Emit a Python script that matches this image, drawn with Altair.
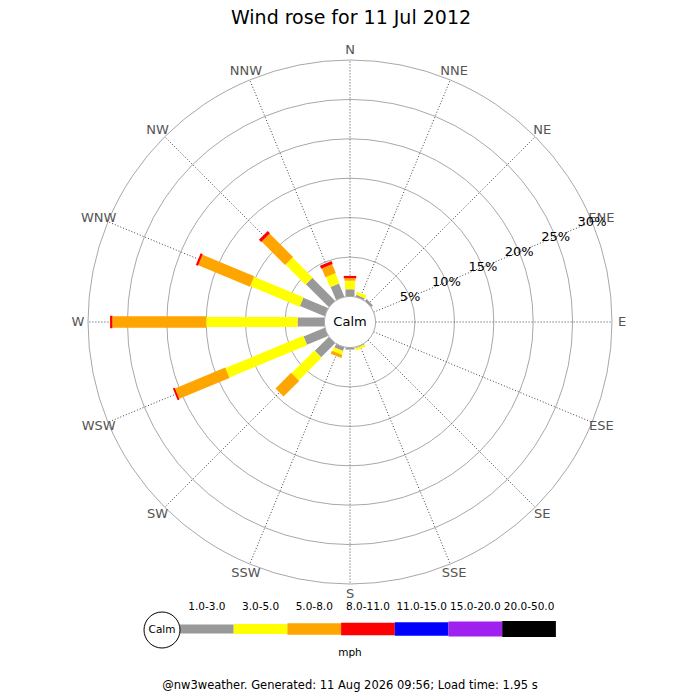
import altair as alt
import pandas as pd

TITLE = "Wind rose for 11 Jul 2012"
FOOTER = "@nw3weather. Generated: 11 Aug 2026 09:56; Load time: 1.95 s"
UNIT = "mph"
CALM = "Calm"

DIRECTIONS = ["N", "NNE", "NE", "ENE", "E", "ESE", "SE", "SSE",
              "S", "SSW", "SW", "WSW", "W", "WNW", "NW", "NNW"]
SPEED_BINS = ["1.0-3.0", "3.0-5.0", "5.0-8.0", "8.0-11.0",
              "11.0-15.0", "15.0-20.0", "20.0-50.0"]
BIN_COLORS = ["#999999", "#ffff00", "#ffa500", "#ff0000", "#0000ff", "#a020f0", "#000000"]

# share of the day (%) blowing from each direction, one list per speed band
PCT_1_3 = [0.9, 0.25, 0.3, 0, 0, 0, 0, 0.1, 0.25, 0.5, 2.5, 2.9, 3.4, 3.4, 4.1, 1.8]
PCT_3_5 = [1.1, 0.4, 0, 0, 0, 0, 0, 0.3, 0, 0.5, 4.1, 10.7, 11.6, 6.8, 3.6, 1.4]
PCT_5_8 = [0.3, 0, 0, 0, 0, 0, 0, 0, 0, 0.4, 2.8, 6.9, 11.9, 7.1, 4.2, 1.2]
PCT_8_11 = [0.3, 0, 0, 0, 0, 0, 0, 0, 0, 0, 0, 0.25, 0.3, 0.3, 0.4, 0.4]
RING_PCTS = [5, 10, 15, 20, 25, 30]

# layout (pixels); the rose centre is the origin of the x/y scales
W = H = 684
CX, CY = 342, 314
R0 = 25.6          # calm circle radius
K = 7.88           # pixels per percent
R_MAX = R0 + K * 30
R_LABEL = 272
BAR_WIDTHS = [9, 16, 21, 23, 25, 27, 29]
LEG_X0, LEG_W, LEG_Y = -170, 53.7, -307
FONT = "DejaVu Sans"

xs = alt.Scale(domain=[-CX, W - CX], nice=False, zero=False)
ys = alt.Scale(domain=[CY - H, CY], nice=False, zero=False)
color = alt.Color("band:N", scale=alt.Scale(domain=SPEED_BINS, range=BIN_COLORS), legend=None)
width = alt.StrokeWidth("band:O", scale=alt.Scale(domain=SPEED_BINS, range=BAR_WIDTHS), legend=None)


def xq(f):
    return alt.X(f, scale=xs, axis=None)


def yq(f):
    return alt.Y(f, scale=ys, axis=None)


def xd(v):
    return alt.XDatum(v, scale=xs, axis=None)


def yd(v):
    return alt.YDatum(v, scale=ys, axis=None)


def polar(chart, r_expr, name_x, name_y):
    return chart.transform_calculate(
        **{name_x: f"({r_expr}) * sin(datum.angle * PI / 180)",
           name_y: f"({r_expr}) * cos(datum.angle * PI / 180)"}
    )


rows = []
for b, series in enumerate([PCT_1_3, PCT_3_5, PCT_5_8, PCT_8_11]):
    for d, v in enumerate(series):
        if v > 0:
            rows.append({"dir": DIRECTIONS[d], "angle": d * 22.5,
                         "band": SPEED_BINS[b], "order": b, "pct": v})
bars_df = pd.DataFrame(rows)
dirs_df = pd.DataFrame({"dir": DIRECTIONS, "angle": [i * 22.5 for i in range(16)]})
rings_df = pd.DataFrame({"pct": RING_PCTS, "angle": 67.5})
legend_df = pd.DataFrame({"band": SPEED_BINS, "i": range(len(SPEED_BINS))})

rings = (
    alt.Chart(rings_df)
    .transform_calculate(r=f"{R0} + {K} * datum.pct")
    .mark_arc(theta=0, theta2=6.2832, stroke="#a8a8a8", strokeWidth=1, fillOpacity=0)
    .encode(x=xd(0), y=yd(0), radius=alt.Radius("r:Q", scale=None, stack=False))
)

spokes = (
    polar(polar(alt.Chart(dirs_df), str(R0), "x", "y"), str(R_MAX), "x2", "y2")
    .mark_rule(color="#444444", strokeWidth=1, strokeDash=[1, 2])
    .encode(x=xq("x:Q"), y=yq("y:Q"), x2="x2:Q", y2="y2:Q")
)

dir_labels = (
    polar(alt.Chart(dirs_df), str(R_LABEL), "x", "y")
    .mark_text(font=FONT, fontSize=13, color="#555555", align="center", baseline="middle")
    .encode(x=xq("x:Q"), y=yq("y:Q"), text="dir:N")
)

bars = (
    alt.Chart(bars_df)
    .transform_stack(stack="pct", groupby=["dir"], as_=["p0", "p1"],
                     sort=[alt.SortField("order", order="ascending")])
    .transform_calculate(r0=f"{R0} + {K} * datum.p0", r1=f"{R0} + {K} * datum.p1")
    .transform_calculate(
        x="datum.r0 * sin(datum.angle * PI / 180)", y="datum.r0 * cos(datum.angle * PI / 180)",
        x2="datum.r1 * sin(datum.angle * PI / 180)", y2="datum.r1 * cos(datum.angle * PI / 180)",
    )
    .mark_rule(strokeCap="butt")
    .encode(x=xq("x:Q"), y=yq("y:Q"), x2="x2:Q", y2="y2:Q", color=color, strokeWidth=width)
)

calm_df = pd.DataFrame({"label": [CALM]})
calm = (
    alt.Chart(calm_df)
    .mark_arc(theta=0, theta2=6.2832, fill="white", stroke="#a8a8a8", strokeWidth=1)
    .encode(x=xd(0), y=yd(0), radius=alt.value(R0))
)
calm_text = (
    alt.Chart(calm_df)
    .mark_text(font=FONT, fontSize=13, color="black", align="center", baseline="middle")
    .encode(x=xd(0), y=yd(0), text="label:N")
)

pct_labels = (
    polar(alt.Chart(rings_df), f"{R0} + {K} * datum.pct", "x", "y")
    .transform_calculate(label="datum.pct + '%'")
    .mark_text(font=FONT, fontSize=13, color="black", align="center", baseline="middle")
    .encode(x=xq("x:Q"), y=yq("y:Q"), text="label:N")
)

legend_base = alt.Chart(legend_df).transform_calculate(
    lx=f"{LEG_X0} + datum.i * {LEG_W}", lx2=f"{LEG_X0} + (datum.i + 1) * {LEG_W}",
    lxm=f"{LEG_X0} + (datum.i + 0.5) * {LEG_W}", ly=str(LEG_Y), lt=str(LEG_Y + 22),
)
legend_bars = legend_base.mark_rule(strokeCap="butt").encode(
    x=xq("lx:Q"), x2="lx2:Q", y=yq("ly:Q"), color=color, strokeWidth=width
)
legend_text = legend_base.mark_text(
    font=FONT, fontSize=10.5, color="black", align="center", baseline="middle"
).encode(x=xq("lxm:Q"), y=yq("lt:Q"), text="band:N")

legend_calm = (
    alt.Chart(calm_df)
    .mark_arc(theta=0, theta2=6.2832, fill="white", stroke="black", strokeWidth=1)
    .encode(x=xd(LEG_X0 - 18), y=yd(LEG_Y - 1), radius=alt.value(18))
)
legend_calm_text = (
    alt.Chart(calm_df)
    .mark_text(font=FONT, fontSize=10.5, color="black", align="center", baseline="middle")
    .encode(x=xd(LEG_X0 - 18), y=yd(LEG_Y - 1), text="label:N")
)


def note(text, x, y, size):
    return (
        alt.Chart(pd.DataFrame({"t": [text]}))
        .mark_text(font=FONT, fontSize=size, color="black", align="center", baseline="middle")
        .encode(x=xd(x), y=yd(y), text="t:N")
    )


chart = (
    alt.layer(
        rings, spokes, bars, calm, calm_text, dir_labels, pct_labels,
        legend_bars, legend_text, legend_calm, legend_calm_text,
        note(TITLE, 1, 304, 19),
        note(UNIT, 0, -331, 10.5),
        note(FOOTER, 0, -364, 11.5),
    )
    .properties(width=W, height=H, autosize=alt.AutoSizeParams(type="none"), padding=0,
                background="white")
    .configure_view(strokeWidth=0)
)

chart.save("out.html", embed_options={"renderer": "svg", "actions": False})
